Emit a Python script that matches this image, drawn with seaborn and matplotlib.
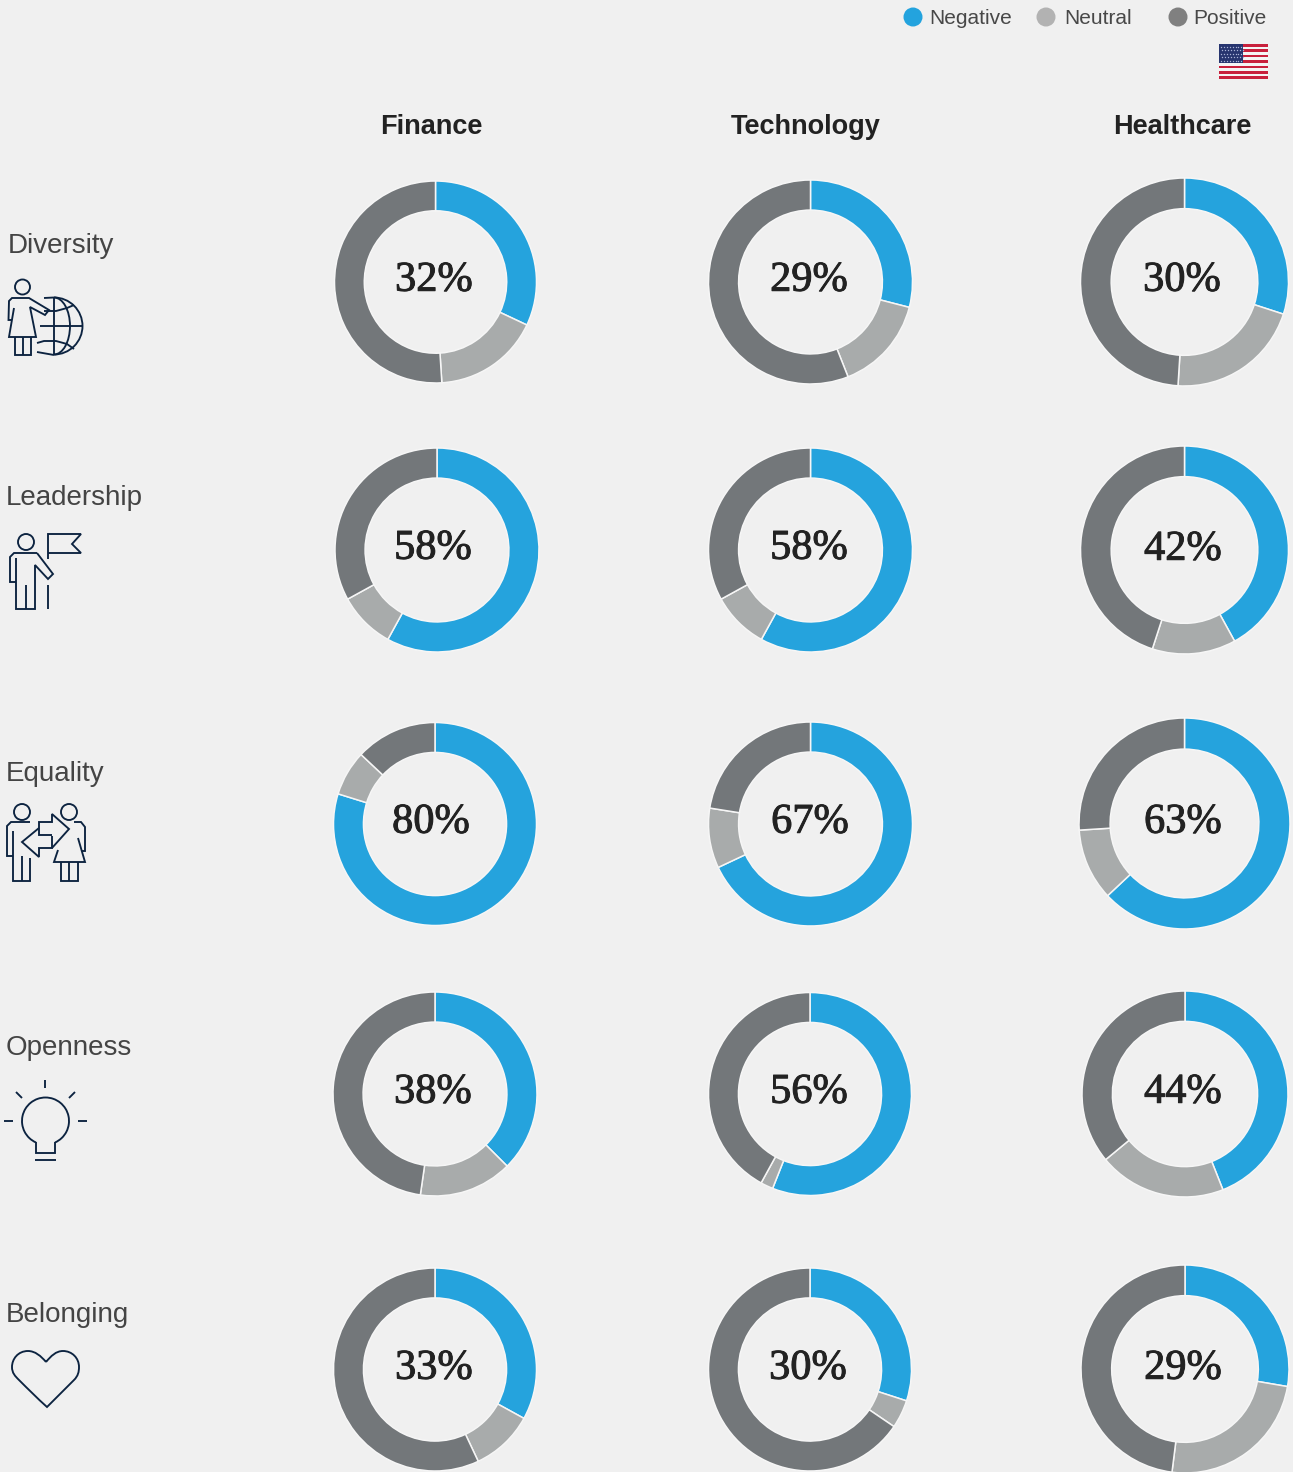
import matplotlib
matplotlib.use("Agg")
import matplotlib.pyplot as plt
import matplotlib.patheffects as pe
import seaborn as sns
from matplotlib.patches import Circle, Rectangle, Arc, PathPatch
from matplotlib.path import Path

W, H = 1293, 1472
sns.set_theme(style="white", rc={"figure.facecolor": "#f0f0f0", "axes.facecolor": "none", "savefig.facecolor": "#f0f0f0"})
plt.rcParams["font.family"] = ["Liberation Sans", "DejaVu Sans"]

sectors = ["Finance", "Technology", "Healthcare"]
themes = ["Diversity", "Leadership", "Equality", "Openness", "Belonging"]
series = ["Negative", "Neutral", "Positive"]

labels = [[32, 29, 30], [58, 58, 42], [80, 67, 63], [38, 56, 44], [33, 30, 29]]
negative = [[32, 29, 30], [58, 58, 42], [79.8, 68, 63], [37.5, 56, 44], [33, 30, 27.7]]
neutral = [[17, 15, 21], [9, 9, 13], [7.2, 9.5, 11], [14.8, 2, 20], [10, 4.5, 24.3]]
positive = [[51, 56, 49], [33, 33, 45], [13, 22.5, 26], [47.7, 42, 36], [57, 65.5, 48]]

palette = sns.color_palette(["#25a3dd", "#a8abab", "#73777a"])
legend_colors = ["#23a3de", "#b2b2b2", "#808080"]

# layout (pixels)
cx = [[435.5, 810.5, 1184.5], [437, 810.5, 1184.5], [435, 810.5, 1184.5], [435, 810, 1185], [435, 810, 1185]]
cy = [[282, 282, 282], [550, 550, 550], [824, 824, 823.5], [1094, 1094, 1094], [1369.5, 1369.5, 1369]]
rad = [[101, 102, 104], [102, 102, 104], [101.5, 102, 105.5], [102, 101.5, 103], [101.5, 101.5, 104]]
label_xy = [[(434, 278), (809, 278), (1182, 278)], [(433, 546), (809, 546), (1183, 547)],
            [(431, 820), (810, 820), (1183, 820)], [(433, 1090), (809, 1090), (1183, 1090)],
            [(434, 1366), (808, 1366), (1183, 1366)]]

fig = plt.figure(figsize=(W / 100, H / 100), dpi=100)
bg = fig.add_axes([0, 0, 1, 1])
bg.set_xlim(0, W)
bg.set_ylim(H, 0)
bg.axis("off")

for i in range(len(themes)):
    for j in range(len(sectors)):
        r = rad[i][j]
        ax = fig.add_axes([(cx[i][j] - r) / W, 1 - (cy[i][j] + r) / H, 2 * r / W, 2 * r / H])
        ax.pie([negative[i][j], neutral[i][j], positive[i][j]], colors=palette, startangle=90,
               counterclock=False, radius=1,
               wedgeprops=dict(width=0.295, edgecolor="#f6f6f6", linewidth=1.1))
        ax.set_xlim(-1, 1)
        ax.set_ylim(-1, 1)
        ax.patch.set_alpha(0)
        x, y = label_xy[i][j]
        bg.text(x, y + 2.5, f"{labels[i][j]}%", ha="center", va="center", fontsize=30.5,
                family=["Liberation Serif"], color="#222222", zorder=5,
                path_effects=[pe.withStroke(linewidth=0.7, foreground="#222222")])

for s, x in zip(sectors, [431.5, 805.5, 1182.5]):
    bg.text(x, 126.5, s, ha="center", va="center", fontsize=19.5, fontweight="bold", color="#222222")

theme_pos = [(8, 246), (6, 498), (6, 774), (6, 1048), (6, 1315)]
for t, (x, y) in zip(themes, theme_pos):
    bg.text(x, y, t, ha="left", va="center", fontsize=20, color="#444444")

for s, c, mx, tx in zip(series, legend_colors, [913, 1046, 1178], [929, 1064, 1193]):
    bg.add_patch(Circle((mx, 17), 9.5, color=c, lw=0))
    bg.text(tx, 18.5, s, ha="left", va="center", fontsize=15, color="#484848")

# flag
fx0, fx1, fy0, fy1 = 1219, 1268, 44, 79
for k in range(13):
    h = (fy1 - fy0) / 13
    bg.add_patch(Rectangle((fx0, fy0 + k * h), fx1 - fx0, h, color="#c8203c" if k % 2 == 0 else "#f4f4f4", lw=0))
bg.add_patch(Rectangle((fx0, fy0), 24, 19, color="#27356f", lw=0))
for row in range(5):
    for col in range(8):
        bg.plot(fx0 + 2 + col * 2.9 + (row % 2) * 1.4, fy0 + 2.5 + row * 3.6, "o", ms=1.0, mew=0, color="#aab4d6")

# icons
ic = "#0c2340"
LW = 1.35
def L(pts):
    xs, ys = zip(*pts)
    bg.plot(xs, ys, color=ic, lw=LW, solid_joinstyle="miter", solid_capstyle="butt")
def C(x, y, r):
    bg.add_patch(Circle((x, y), r, fill=False, ec=ic, lw=LW))
def A(x, y, rx, ry, a0, a1):
    bg.add_patch(Arc((x, y), 2 * rx, 2 * ry, theta1=a0, theta2=a1, ec=ic, lw=LW))

# Diversity: woman + globe
C(22.5, 287, 7.5)
L([(27, 298), (12, 298), (9, 301), (8.5, 320), (12, 320)])
L([(27, 298), (29, 298), (49, 310), (45, 315), (30, 307), (36, 337), (9, 337), (14, 308)])
L([(15, 337), (15, 355), (31, 355), (31, 337)])
L([(23, 337), (23, 355)])
A(54, 326, 28.5, 28.5, -90, 90)
L([(44, 298), (54, 297.5)]); L([(37, 352), (54, 355)])
L([(54, 297), (54, 355)]); L([(40, 326), (82, 326)])
A(54, 326, 16, 28.5, -90, 90)
L([(44, 311), (56, 311), (67, 308), (74, 305)])
L([(37, 343), (44, 341), (56, 341), (67, 344), (74, 349)])

# Leadership: person + flag
C(26, 542, 8)
L([(37, 553), (14, 553), (10, 557), (10, 582), (16, 582)])
L([(16, 558), (16, 609), (35, 609), (35, 565), (48, 579), (53, 574), (37, 553)])
L([(26, 585), (26, 609)])
L([(48, 585), (48, 609)])
L([(48, 559), (48, 534), (81, 534), (72, 544), (81, 553), (48, 553)])

# Equality: two people + arrows
C(22, 812, 8); C(69, 812, 8)
L([(30, 822), (11, 822), (7, 826), (7, 856), (13, 856)])
L([(13, 831), (13, 881), (30, 881), (30, 858)])
L([(22, 856), (22, 881)])
L([(74, 822), (81, 822), (85, 827), (85, 851), (82, 851)])
L([(78, 838), (85, 862), (54, 862), (58, 850)])
L([(61, 862), (61, 881), (78, 881), (78, 862)])
L([(69, 862), (69, 881)])
L([(52, 848), (69, 829), (52, 814), (52, 822), (39, 822), (39, 835), (52, 835)])
L([(39, 828), (22, 842), (39, 857), (39, 848), (52, 848), (52, 836)])

# Openness: bulb
A(45.5, 1121, 23.5, 23.5, 114, 426)
L([(36, 1142), (36, 1153), (55, 1153), (55, 1142)])
L([(35, 1160), (56, 1160)])
L([(45, 1080), (45, 1088)]); L([(16, 1092), (22, 1098)]); L([(75, 1092), (69, 1098)])
L([(4, 1121), (13, 1121)]); L([(78, 1121), (87, 1121)])

# Belonging: heart
M, C4 = Path.MOVETO, Path.CURVE4
heart = Path([(46, 1362), (41, 1356), (35, 1351), (28, 1351),
              (18, 1351), (12, 1359), (12, 1367),
              (12, 1373), (15, 1376), (19, 1380),
              (28, 1389), (37, 1398), (47, 1407),
              (56, 1398), (65, 1389), (74, 1380),
              (78, 1376), (79, 1372), (79, 1367),
              (79, 1358), (72, 1351), (63, 1351),
              (56, 1351), (51, 1356), (46, 1362)],
             [M] + [C4] * 24)
bg.add_patch(PathPatch(heart, fill=False, ec=ic, lw=LW))

fig.savefig("out.png", dpi=100)
